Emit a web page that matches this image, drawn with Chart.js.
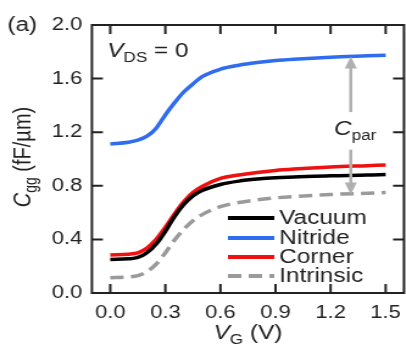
<!DOCTYPE html>
<html>
<head>
<meta charset="utf-8">
<script src="https://cdn.jsdelivr.net/npm/chart.js@4/dist/chart.umd.min.js"></script>
<style>
  html, body { margin: 0; padding: 0; background: #fff; overflow: hidden; }
  #wrap { position: relative; width: 338px; height: 345px; transform: scaleX(1.219); transform-origin: 0 0; }
</style>
</head>
<body>
<div id="wrap"><canvas id="cgg"></canvas></div>
<script>
// gate voltage (V)
const vg        = [0, 0.1, 0.15, 0.2, 0.25, 0.3, 0.35, 0.4, 0.45, 0.5, 0.6, 0.7, 0.8, 0.9, 1.0, 1.2, 1.4, 1.5];
// Cgg (fF/um)
const vacuum    = [0.25, 0.255, 0.265, 0.30, 0.365, 0.46, 0.57, 0.66, 0.725, 0.765, 0.81, 0.835, 0.85, 0.86, 0.865, 0.875, 0.88, 0.885];
const nitride   = [1.112, 1.125, 1.14, 1.17, 1.23, 1.33, 1.42, 1.50, 1.56, 1.615, 1.67, 1.70, 1.72, 1.735, 1.745, 1.76, 1.77, 1.775];
const corner    = [0.284, 0.29, 0.30, 0.335, 0.40, 0.49, 0.59, 0.68, 0.75, 0.795, 0.855, 0.88, 0.90, 0.915, 0.925, 0.94, 0.95, 0.955];
const intrinsic = [0.114, 0.12, 0.13, 0.16, 0.215, 0.30, 0.395, 0.475, 0.54, 0.585, 0.645, 0.675, 0.695, 0.71, 0.72, 0.735, 0.745, 0.75];

const xTicks = [0, 0.3, 0.6, 0.9, 1.2, 1.5];
const yTicks = [0, 0.4, 0.8, 1.2, 1.6, 2.0];

// Cpar arrows: x position, and the spans up / down
const cparX = 1.31;
const cparUp = [1.35, 1.765];
const cparDown = [1.07, 0.735];

const FONT = '"Liberation Sans", Arial, sans-serif';

function pts(ys) { return vg.map((x, i) => ({ x: x, y: ys[i] })); }

const series = [
  { label: 'Vacuum',    data: vacuum,    color: '#000000', dash: [] },
  { label: 'Nitride',   data: nitride,   color: '#2f6cf0', dash: [] },
  { label: 'Corner',    data: corner,    color: '#f01010', dash: [] },
  { label: 'Intrinsic', data: intrinsic, color: '#9a9a9a', dash: [11, 6] }
];

// draw a run of text pieces: [text, size, italic, dy]
function runText(ctx, x, y, parts) {
  let cx = x;
  parts.forEach(p => {
    ctx.font = (p[2] ? 'italic ' : '') + p[1] + 'px ' + FONT;
    ctx.fillText(p[0], cx, y + (p[3] || 0));
    cx += ctx.measureText(p[0]).width;
  });
}

function arrow(ctx, x, y0, y1) {
  const dir = y1 > y0 ? 1 : -1;
  ctx.beginPath();
  ctx.moveTo(x, y0);
  ctx.lineTo(x, y1 - dir * 10);
  ctx.stroke();
  ctx.beginPath();
  ctx.moveTo(x, y1);
  ctx.lineTo(x - 5, y1 - dir * 12);
  ctx.lineTo(x + 5, y1 - dir * 12);
  ctx.closePath();
  ctx.fill();
}

const decor = {
  id: 'decor',
  afterDraw(chart) {
    const ctx = chart.ctx;
    const a = chart.chartArea;
    const xs = chart.scales.x, ys = chart.scales.y;
    ctx.save();

    // frame
    ctx.strokeStyle = '#222';
    ctx.lineWidth = 2;
    ctx.strokeRect(a.left, a.top, a.right - a.left, a.bottom - a.top);

    // inward ticks
    ctx.beginPath();
    xTicks.forEach(v => {
      const px = xs.getPixelForValue(v);
      ctx.moveTo(px, a.bottom); ctx.lineTo(px, a.bottom - 9);
      ctx.moveTo(px, a.top); ctx.lineTo(px, a.top + 9);
    });
    yTicks.forEach(v => {
      const py = ys.getPixelForValue(v);
      ctx.moveTo(a.left, py); ctx.lineTo(a.left + 9, py);
      ctx.moveTo(a.right, py); ctx.lineTo(a.right - 9, py);
    });
    ctx.stroke();

    ctx.fillStyle = '#222';
    ctx.textBaseline = 'alphabetic';
    ctx.textAlign = 'left';

    // panel tag
    ctx.font = '20px ' + FONT;
    ctx.fillText('(a)', 6, 31);

    // V_DS = 0
    runText(ctx, 88, 57, [['V', 20, true], ['DS', 14, false, 5], [' = 0', 20, false]]);

    // C_par label
    runText(ctx, 274, 135, [['C', 20, true], ['par', 14, false, 5]]);

    // x title
    const xt = [['V', 20, true], ['G', 14, false, 5], [' (V)', 20, false]];
    let w = 0;
    xt.forEach(p => { ctx.font = (p[2] ? 'italic ' : '') + p[1] + 'px ' + FONT; w += ctx.measureText(p[0]).width; });
    runText(ctx, (a.left + a.right) / 2 - w / 2, 339, xt);

    // y title
    const yt = [['C', 20, true], ['gg', 14, false, 5], [' (fF/\u00b5m)', 20, false]];
    w = 0;
    yt.forEach(p => { ctx.font = (p[2] ? 'italic ' : '') + p[1] + 'px ' + FONT; w += ctx.measureText(p[0]).width; });
    ctx.save();
    ctx.translate(25, (a.top + a.bottom) / 2 - 2);
    ctx.rotate(-Math.PI / 2);
    runText(ctx, -w / 2, 0, yt);
    ctx.restore();

    // Cpar arrows
    ctx.strokeStyle = '#b0b0b0';
    ctx.fillStyle = '#b0b0b0';
    ctx.lineWidth = 2.5;
    const ax = xs.getPixelForValue(cparX);
    arrow(ctx, ax, ys.getPixelForValue(cparUp[0]), ys.getPixelForValue(cparUp[1]));
    arrow(ctx, ax, ys.getPixelForValue(cparDown[0]), ys.getPixelForValue(cparDown[1]));

    // legend
    const rowY = [218, 238, 257, 276];
    series.forEach((s, i) => {
      ctx.strokeStyle = s.color;
      ctx.lineWidth = 4;
      ctx.setLineDash(s.dash);
      ctx.beginPath();
      ctx.moveTo(187, rowY[i]);
      ctx.lineTo(225, rowY[i]);
      ctx.stroke();
      ctx.setLineDash([]);
      ctx.fillStyle = '#222';
      ctx.font = '20px ' + FONT;
      ctx.fillText(s.label, 229, rowY[i] + 6);
    });

    ctx.restore();
  }
};

new Chart(document.getElementById('cgg'), {
  type: 'line',
  data: {
    datasets: series.map(s => ({
      label: s.label,
      data: pts(s.data),
      borderColor: s.color,
      borderWidth: 3.5,
      borderDash: s.dash,
      pointRadius: 0,
      cubicInterpolationMode: 'monotone',
      fill: false
    }))
  },
  options: {
    responsive: true,
    maintainAspectRatio: false,
    animation: false,
    devicePixelRatio: 1,
    layout: { padding: { top: 25, right: 2, left: 0, bottom: 0 } },
    plugins: { legend: { display: false }, tooltip: { enabled: false } },
    scales: {
      x: {
        type: 'linear',
        min: -0.1,
        max: 1.6,
        afterBuildTicks: s => { s.ticks = xTicks.map(v => ({ value: v })); },
        afterFit: s => { s.height = 52; },
        grid: { display: false, drawTicks: false },
        border: { display: false },
        ticks: { padding: 9, color: '#222', font: { family: FONT, size: 18 }, maxRotation: 0,
                 callback: v => v.toFixed(1) }
      },
      y: {
        min: 0,
        max: 2.0,
        afterBuildTicks: s => { s.ticks = yTicks.map(v => ({ value: v })); },
        afterFit: s => { s.width = 75.4; },
        grid: { display: false, drawTicks: false },
        border: { display: false },
        ticks: { padding: 8, color: '#222', font: { family: FONT, size: 18 },
                 callback: v => v.toFixed(1) }
      }
    }
  },
  plugins: [decor]
});
</script>
</body>
</html>
